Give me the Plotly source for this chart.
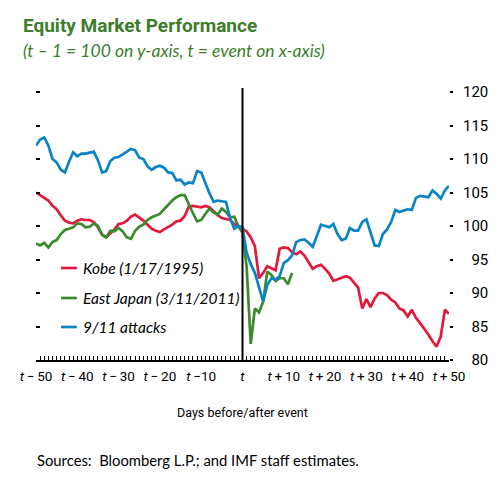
import plotly.graph_objects as go

# ---------------- data ----------------
days = list(range(-50, 51))

kobe = [
    105.0, 104.6, 104.1, 103.8, 103.0, 102.5, 101.6, 100.8, 100.5, 100.4,
    100.8, 101.0, 100.9, 100.9, 100.6, 99.8, 98.7, 98.3, 98.9, 99.5,
    100.3, 100.4, 100.8, 101.4, 101.7, 101.3, 100.8, 100.2, 99.6, 99.3,
    99.1, 99.5, 99.8, 100.2, 100.7, 100.8, 101.5, 102.9, 103.0, 102.9,
    102.8, 103.0, 102.8, 102.2, 101.6, 101.2, 101.0, 100.9, 100.3, 100.0,
    99.6, 99.2, 98.3, 97.0, 92.2, 93.0, 94.0, 93.7, 93.4, 96.6,
    96.8, 96.7, 96.1, 95.8, 96.2, 95.6, 94.5, 93.6, 94.0, 94.2,
    93.6, 92.9, 91.8, 92.0, 92.3, 92.5, 92.3, 91.6, 90.8, 87.7,
    89.1, 87.9, 89.2, 90.0, 90.0, 89.7, 89.0, 88.6, 87.7, 87.4,
    86.5, 87.5, 86.3, 85.5, 84.7, 83.8, 82.8, 82.0, 83.5, 87.5,
    86.9,
]

east_japan = [
    97.4, 97.1, 97.5, 96.8, 97.6, 97.9, 98.8, 99.4, 99.6, 99.8,
    100.4, 100.3, 99.8, 99.9, 100.4, 100.0, 98.7, 98.3, 99.3, 99.2,
    99.7, 99.2, 98.3, 98.1, 99.3, 99.9, 100.2, 100.9, 101.3, 101.5,
    101.8, 102.5, 103.2, 103.8, 104.3, 104.6, 104.6, 103.2, 101.9, 100.7,
    100.9, 101.8, 102.6, 102.0, 101.7, 102.6, 102.1, 101.3, 101.4, 100.0,
    99.0, 93.9, 82.4, 87.7, 87.1, 88.7, 93.2, 92.7, 91.8, 92.2,
    92.2, 91.3, 93.0,
]

sept11 = [
    112.0, 112.9, 113.2, 112.0, 110.0, 109.5, 108.4, 108.0, 109.6, 111.0,
    110.4, 110.8, 110.8, 110.9, 111.1, 109.8, 108.0, 108.2, 109.7, 110.2,
    110.3, 110.7, 111.1, 111.5, 111.3, 110.2, 110.0, 108.9, 108.4, 108.8,
    109.0, 108.7, 108.0, 107.9, 106.8, 106.9, 106.2, 106.5, 106.4, 108.2,
    108.0, 106.4, 104.9, 103.6, 103.8, 103.7, 103.6, 101.2, 99.6, 100.0,
    99.8, 96.0, 94.3, 93.0, 91.0, 88.7, 91.2, 92.2, 92.0, 92.5,
    94.5, 94.9, 95.6, 97.6, 97.9, 98.0, 97.5, 96.9, 98.5, 100.2,
    100.0, 99.8, 100.3, 98.8, 97.9, 98.1, 99.7, 99.3, 99.3, 100.6,
    101.0, 99.1, 97.1, 97.0, 98.8, 99.5, 100.6, 102.4, 102.1, 102.3,
    102.5, 102.4, 104.2, 104.5, 104.4, 104.3, 105.3, 104.8, 104.1, 105.3,
    106.0,
]

series_names = ["Kobe (1/17/1995)", "East Japan (3/11/2011)", "9/11 attacks"]
series_values = [kobe, east_japan, sept11]
series_colors = ["#e2183c", "#3c8a2e", "#0b84c6"]

x_tick_vals = [-50, -40, -30, -20, -10, 0, 10, 20, 30, 40, 50]
TS = "\u2009"
x_tick_text = ["<i>t</i>" + TS + "\u2212" + TS + "50", "<i>t</i>" + TS + "\u2212" + TS + "40",
               "<i>t</i>" + TS + "\u2212" + TS + "30", "<i>t</i>" + TS + "\u2212" + TS + "20",
               "<i>t</i>" + TS + "\u2212" + "10", "<i>t</i>",
               "<i>t</i>" + TS + "+" + TS + "10", "<i>t</i>" + TS + "+" + TS + "20",
               "<i>t</i>" + TS + "+" + TS + "30", "<i>t</i>" + TS + "+" + TS + "40",
               "<i>t</i>" + TS + "+" + TS + "50"]
y_tick_vals = [80, 85, 90, 95, 100, 105, 110, 115, 120]
y_tick_text = [("\u2007" + str(v)) if v < 100 else str(v) for v in y_tick_vals]

title_text = "<b>Equity Market Performance</b>"
subtitle_text = "<i>(t \u2013 1 = 100 on y-axis, t = event on x-axis)</i>"
x_title = "Days before/after event"
source_text = "Sources:  Bloomberg L.P.; and IMF staff estimates."

# ---------------- figure ----------------
COND = "Roboto, 'Liberation Sans', sans-serif"
HUM = "Lato, 'Open Sans', sans-serif"
GREEN_T = "#3b7d2b"

OFF = 8                      # page body margin
W, H = 500 - OFF, 490 - OFF
L, T = 28 - OFF, 88 - OFF    # plot left / top in figure coordinates
PW, PH = 445, 272
R, B = W - L - PW, H - T - PH


def px(xs):
    """screen x -> paper x"""
    return (xs - OFF - L) / PW


def py(ys):
    """screen y -> paper y"""
    return (T + PH - (ys - OFF)) / PH


fig = go.Figure()
for name, vals, col in zip(series_names, series_values, series_colors):
    fig.add_trace(go.Scatter(
        x=days[:len(vals)], y=vals, mode="lines", name=name,
        line=dict(color=col, width=2.7), showlegend=False, hoverinfo="x+y+name",
    ))
# empty trace so that the left tick axis is drawn
fig.add_trace(go.Scatter(x=[], y=[], yaxis="y2", showlegend=False, hoverinfo="skip"))

shapes = [
    dict(type="line", xref="x", yref="paper", x0=0, x1=0, y0=0, y1=1,
         line=dict(color="black", width=2), layer="above"),
]

annotations = [
    dict(text=title_text, xref="paper", yref="paper", x=px(12), y=py(26),
         xanchor="left", yanchor="middle", align="left", showarrow=False,
         font=dict(family=COND, size=19, color=GREEN_T)),
    dict(text=subtitle_text, xref="paper", yref="paper", x=px(12), y=py(50),
         xanchor="left", yanchor="middle", align="left", showarrow=False,
         font=dict(family=HUM, size=17.5, color=GREEN_T)),
    dict(text=x_title, xref="paper", yref="paper", x=px(250.5), y=py(412),
         xanchor="center", yanchor="middle", showarrow=False,
         font=dict(family=COND, size=12.5, color="black")),
    dict(text=source_text, xref="paper", yref="paper", x=px(27), y=py(460),
         xanchor="left", yanchor="middle", align="left", showarrow=False,
         font=dict(family=HUM, size=14.8, color="black")),
]

legend_rows = [268, 298, 327]
for name, col, yrow in zip(series_names, series_colors, legend_rows):
    shapes.append(dict(type="line", xref="paper", yref="paper",
                       x0=px(55), x1=px(72), y0=py(yrow), y1=py(yrow),
                       line=dict(color=col, width=2.7)))
    annotations.append(dict(text="<i>" + name + "</i>", xref="paper", yref="paper",
                            x=px(76), y=py(yrow), xanchor="left", yanchor="middle",
                            align="left", showarrow=False,
                            font=dict(family=HUM, size=15.5, color="black")))

fig.update_layout(
    width=W, height=H,
    margin=dict(l=L, r=R, t=T, b=B, pad=0),
    paper_bgcolor="white", plot_bgcolor="white",
    showlegend=False,
    shapes=shapes, annotations=annotations,
    xaxis=dict(
        range=[-50, 50], showgrid=False, zeroline=False,
        showline=True, linecolor="black", linewidth=1.5,
        tickmode="array", tickvals=x_tick_vals, ticktext=x_tick_text,
        ticks="inside", ticklen=4, tickwidth=1, tickcolor="black",
        ticklabelstandoff=3,
        tickfont=dict(family=COND, size=13.5, color="black"),
        minor=dict(ticks="inside", ticklen=4, tickwidth=1, tickcolor="black",
                   tickmode="linear", tick0=0, dtick=1, showgrid=False),
    ),
    yaxis=dict(
        range=[80, 120.6], side="right", showgrid=False, zeroline=False,
        showline=False,
        tickmode="array", tickvals=y_tick_vals, ticktext=y_tick_text,
        ticks="outside", ticklen=3, tickwidth=1.5, tickcolor="black",
        ticklabelstandoff=7,
        tickfont=dict(family=COND, size=15, color="black"),
    ),
    yaxis2=dict(
        range=[80, 120.6], overlaying="y", side="left", showgrid=False,
        zeroline=False, showline=False,
        tickmode="array", tickvals=y_tick_vals, showticklabels=False,
        ticks="inside", ticklen=4, tickwidth=1.5, tickcolor="black",
    ),
)

fig.write_html("out.html")
